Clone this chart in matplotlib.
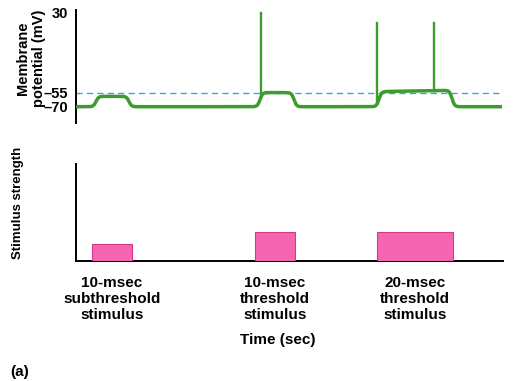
import numpy as np
import matplotlib
matplotlib.use("Agg")
import matplotlib.pyplot as plt

# ---- data ----
stim_labels = ["10-msec\nsubthreshold\nstimulus", "10-msec\nthreshold\nstimulus", "20-msec\nthreshold\nstimulus"]
stim_start = [16, 179, 301]
stim_dur = [40, 40, 76]
stim_strength = [1.8, 3.0, 3.0]

resp_start = [17, 181, 300]
resp_end = [56, 221, 379]
plateau_begin = [-59, -55, -54]
plateau_finish = [-59, -55, -52.5]
spike_times = [[], [185], [301, 358]]
spike_peaks = [[], [30], [19, 19]]

resting = -70
threshold = -55
t_end = 426
yticks_vals = [30, -55, -70]
yticks_text = ["30", "\u201355", "\u201370"]

# ---- figure ----
W, H = 513, 381
fig = plt.figure(figsize=(W / 100, H / 100), dpi=100)
plt.rcParams['font.family'] = ['Liberation Sans', 'DejaVu Sans']

def px_axes(x0, y0, x1, y1):
    return fig.add_axes([x0 / W, 1 - y1 / H, (x1 - x0) / W, (y1 - y0) / H])

green = "#3d9b2f"
ax1 = px_axes(76, 10, 503, 123)
ax1.set_xlim(0, 427)
ax1.set_ylim(-87.3, 32.7)

t = np.linspace(0, t_end, 3000)
v = np.full_like(t, float(resting))
w = 1.3
for s, e, a, b in zip(resp_start, resp_end, plateau_begin, plateau_finish):
    frac = np.clip((t - s) / (e - s), 0, 1)
    level = a + (b - a) * frac
    up = 1 / (1 + np.exp(-(t - s - 3) / w))
    down = 1 / (1 + np.exp((t - e + 3) / w))
    v += (level - resting) * up * down
ax1.plot(t, v, color=green, lw=2.5, solid_capstyle='butt', zorder=3)
for st, pk in zip(spike_times, spike_peaks):
    for ti, p in zip(st, pk):
        base = np.interp(ti, t, v)
        ax1.plot([ti, ti], [base, p], color=green, lw=1.7, zorder=3)

ax1.plot([0, t_end], [threshold, threshold], color="#3aa8cc", lw=1.0,
         dashes=(4.5, 3), zorder=2)
for sp in ["top", "right", "bottom"]:
    ax1.spines[sp].set_visible(False)
ax1.spines["left"].set_linewidth(1.4)
ax1.set_xticks([])
ax1.set_yticks(yticks_vals)
ax1.set_yticklabels(yticks_text, fontsize=10.5, fontweight='bold')
ax1.tick_params(axis='y', length=0, pad=6)

# ---- stimulus axes ----
ax2 = px_axes(76, 164, 503, 261)
ax2.set_xlim(0, 427)
ax2.set_ylim(0, 10)
ax2.bar(stim_start, stim_strength, width=stim_dur, align='edge',
        color="#f566b0", edgecolor="#d2398c", linewidth=0.8, zorder=3)
for sp in ["top", "right"]:
    ax2.spines[sp].set_visible(False)
for sp in ["left", "bottom"]:
    ax2.spines[sp].set_linewidth(1.4)
ax2.set_yticks([])
centers = [s + d / 2 for s, d in zip(stim_start, stim_dur)]
ax2.set_xticks(centers)
ax2.set_xticklabels(stim_labels, fontsize=11, fontweight='bold',
                    linespacing=1.15)
ax2.tick_params(axis='x', length=0, pad=11)
ax2.set_xlabel("Time (sec)", fontsize=11, fontweight='bold')
ax2.xaxis.set_label_coords((278 - 76) / 427, -(340 - 261) / 97)
ax2.xaxis.label.set_va('center')

fig.text(31 / W, 1 - 58 / H, "Membrane\npotential (mV)", rotation=90,
         ha='center', va='center', fontsize=10.5, fontweight='bold',
         linespacing=1.1)
fig.text(18 / W, 1 - 203 / H, "Stimulus strength", rotation=90,
         ha='center', va='center', fontsize=9.5, fontweight='bold')
fig.text(10 / W, 1 - 372 / H, "(a)", ha='left', va='center',
         fontsize=11, fontweight='bold')

fig.savefig("out.png", dpi=100)
